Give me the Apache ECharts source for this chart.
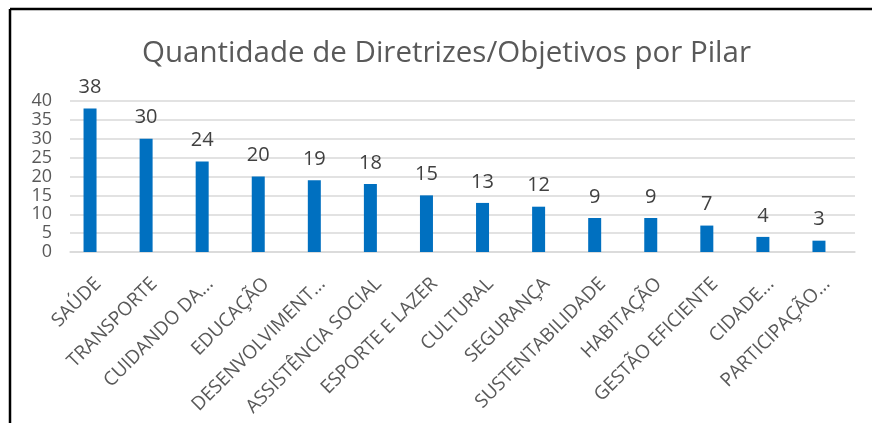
<!DOCTYPE html>
<html>
<head>
<meta charset="utf-8">
<script src="https://cdn.jsdelivr.net/npm/echarts@6/dist/echarts.min.js"></script>
<style>
  html, body { margin: 0; padding: 0; background: #fff; }
  #chart { width: 872px; height: 423px; }
</style>
</head>
<body>
<div id="chart"></div>
<script>
const pilares = [
  "SAÚDE", "TRANSPORTE", "CUIDANDO DA...", "EDUCAÇÃO", "DESENVOLVIMENT...",
  "ASSISTÊNCIA SOCIAL", "ESPORTE E LAZER", "CULTURAL", "SEGURANÇA",
  "SUSTENTABILIDADE", "HABITAÇÃO", "GESTÃO EFICIENTE", "CIDADE...", "PARTICIPAÇÃO..."
];
const quantidades = [38, 30, 24, 20, 19, 18, 15, 13, 12, 9, 9, 7, 4, 3];

const chart = echarts.init(document.getElementById("chart"));
const font = "'Open Sans', 'Liberation Sans', sans-serif";

// grid 0 carries gridlines, y labels and category labels; grid 1 the bars (Excel draws them a bit left)
const option = {
  backgroundColor: "#fff",
  title: {
    text: "Quantidade de Diretrizes/Objetivos por Pilar",
    left: 137,
    top: 34,
    textStyle: { fontFamily: font, fontSize: 29.5, fontWeight: "normal", color: "#595959" },
  },
  grid: [
    { left: 70, right: 17, top: 101, bottom: 171 },
    { left: 62, right: 25, top: 101, bottom: 171 },
  ],
  xAxis: [
    {
      type: "category",
      gridIndex: 0,
      data: pilares,
      axisLine: { lineStyle: { color: "#d9d9d9", width: 1.5 } },
      axisTick: { show: false },
      axisLabel: {
        rotate: 45,
        interval: 0,
        margin: 29,
        fontFamily: font,
        fontSize: 19,
        color: "#595959",
      },
    },
    {
      type: "category",
      gridIndex: 1,
      data: pilares,
      axisLine: { show: false },
      axisTick: { show: false },
      axisLabel: { show: false },
    },
  ],
  yAxis: [
    {
      type: "value",
      gridIndex: 0,
      min: 0,
      max: 40,
      interval: 5,
      axisLine: { show: false },
      axisTick: { show: false },
      splitLine: { lineStyle: { color: "#d9d9d9", width: 1.5 } },
      axisLabel: { fontFamily: font, fontSize: 18, color: "#595959", margin: 18 },
    },
    {
      type: "value",
      gridIndex: 1,
      min: 0,
      max: 40,
      interval: 5,
      axisLine: { show: false },
      axisTick: { show: false },
      splitLine: { show: false },
      axisLabel: { show: false },
    },
  ],
  series: [
    {
      type: "bar",
      xAxisIndex: 1,
      yAxisIndex: 1,
      data: quantidades,
      barWidth: 13,
      itemStyle: { color: "#0070c0" },
      label: {
        show: true,
        position: "top",
        distance: 11,
        fontFamily: font,
        fontSize: 20,
        color: "#404040",
      },
    },
  ],
  graphic: [
    { type: "line", shape: { x1: 10, y1: 9, x2: 872, y2: 9 }, style: { stroke: "#000", lineWidth: 2.5 } },
    { type: "line", shape: { x1: 10, y1: 9, x2: 10, y2: 423 }, style: { stroke: "#000", lineWidth: 2.5 } },
  ],
};

chart.setOption(option);
</script>
</body>
</html>
